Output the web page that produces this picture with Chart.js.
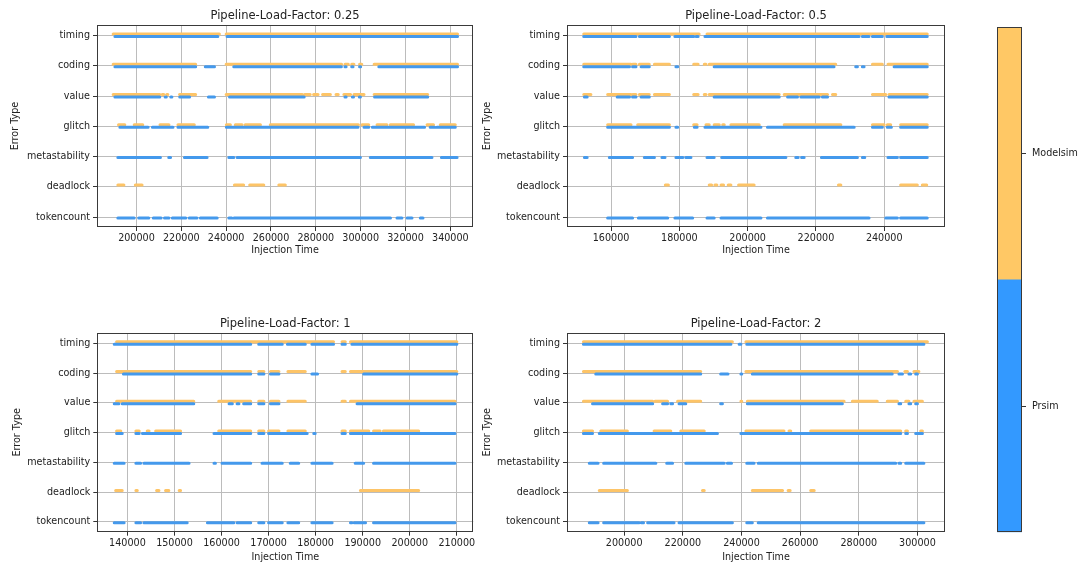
<!DOCTYPE html>
<html>
<head>
<meta charset="utf-8">
<script src="https://cdn.jsdelivr.net/npm/chart.js@4.4.0/dist/chart.umd.min.js"></script>
<style>
  html, body { margin: 0; padding: 0; background: #fff; }
  #page { position: relative; width: 1079px; height: 564px; overflow: hidden; }
  canvas { position: absolute; }
</style>
</head>
<body>
<div id="page">
  <canvas id="c025" width="480" height="262" style="left:0px;top:0px"></canvas>
  <canvas id="c05" width="480" height="262" style="left:472px;top:0px"></canvas>
  <canvas id="c1" width="480" height="256" style="left:2px;top:308px"></canvas>
  <canvas id="c2" width="480" height="256" style="left:472px;top:308px"></canvas>
  <canvas id="cbar" width="89" height="564" style="left:990px;top:0px"></canvas>
</div>
<script>
const errorTypes = ['timing', 'coding', 'value', 'glitch', 'metastability', 'deadlock', 'tokencount'];
const seriesNames = ['Modelsim', 'Prsim'];
const loadFactors = ['0.25', '0.5', '1', '2'];

const xTicks025 = [200000, 220000, 240000, 260000, 280000, 300000, 320000, 340000];
const xTicks05 = [160000, 180000, 200000, 220000, 240000];
const xTicks1 = [140000, 150000, 160000, 170000, 180000, 190000, 200000, 210000];
const xTicks2 = [200000, 220000, 240000, 260000, 280000, 300000];

// injection time intervals [start, end], one list per error type (errorTypes order)
const modelsim025 = [
  [[189600, 237000], [240000, 343200]],
  [[189600, 226400], [240000, 291500], [293000, 294500], [296000, 297000], [299500, 300500], [306000, 343200]],
  [[189600, 210400], [211500, 212200], [213500, 214000], [219200, 226400], [240000, 274000], [275000, 277500], [279000, 281000], [283000, 286500], [289000, 290000], [292500, 295500], [297000, 301500], [306000, 329900]],
  [[192000, 194800], [199000, 202800], [210500, 214500], [218500, 225800], [240100, 241900], [244100, 247100], [248500, 255300], [259700, 299000], [300600, 303600], [307300, 311700], [313200, 323600], [329600, 332500], [335500, 342200]],
  [],
  [[191700, 194400], [199500, 202500], [243700, 247800], [250500, 256800], [263500, 266400]],
  []
];
const prsim025 = [
  [[190400, 236300], [240400, 343200]],
  [[190400, 226400], [230700, 234800], [243400, 291400], [293000, 293500], [296000, 296600], [299500, 300000], [308100, 343200]],
  [[190400, 210400], [212800, 213300], [215300, 215800], [219300, 223700], [232100, 234800], [241500, 274800], [293000, 293500], [296300, 296800], [299400, 299900], [306200, 329900]],
  [[192600, 205200], [207100, 216300], [218500, 231800], [240100, 298800], [301500, 303600], [305200, 328500], [331000, 333000], [334000, 342200]],
  [[191700, 210700], [214400, 215200], [221400, 231500], [241200, 243400], [244900, 299900], [304300, 331800], [336000, 343000]],
  [],
  [[191700, 199000], [201000, 205500], [207500, 211000], [212500, 214500], [216000, 222000], [223500, 227000], [228500, 236000], [241200, 242500], [243500, 313300], [316200, 318400], [320700, 322900], [326600, 327800]]
];

const modelsim05 = [
  [[152000, 185800], [188100, 252600]],
  [[152000, 165850], [166300, 167300], [168300, 171200], [172700, 177100], [184200, 185500], [187300, 187800], [188750, 225800], [236550, 239450], [241100, 252600]],
  [[152000, 154100], [159000, 165850], [166300, 167300], [168300, 171200], [172700, 177100], [184200, 185500], [187300, 187800], [188750, 209250], [210700, 223400], [224850, 225800], [236550, 240450], [241400, 252600]],
  [[159000, 165850], [167800, 177100], [184200, 185200], [187800, 188750], [190200, 191700], [192700, 193150], [195100, 203400], [210700, 227300], [236550, 239950], [240900, 241900], [244800, 252600]],
  [],
  [[175900, 176800], [188750, 189450], [190400, 191000], [192200, 192950], [194300, 195100], [197350, 201900], [226600, 227300], [244800, 249700], [251150, 252450]],
  []
];
const prsim05 = [
  [[152000, 167300], [168300, 177100], [178700, 184200], [184900, 185500], [187500, 232650], [233600, 235550], [236550, 239450], [240750, 252600]],
  [[152000, 165400], [166300, 167300], [168800, 171200], [179000, 179500], [190200, 225300], [231650, 232150], [233600, 234100], [242900, 252600]],
  [[152200, 153000], [161800, 165400], [166300, 167300], [168800, 171200], [190200, 209250], [211700, 214600], [215600, 220950], [221900, 223400], [241400, 252600]],
  [[159000, 177100], [179000, 179500], [184400, 185200], [187500, 203900], [205800, 231200], [236550, 239450], [240900, 242100], [244800, 252600]],
  [[152200, 153000], [159500, 166300], [169750, 172700], [174900, 175800], [179000, 181000], [181900, 183400], [188100, 190200], [192400, 211200], [214100, 214800], [215800, 216550], [221600, 232150], [233600, 234300], [241100, 243850], [244800, 252600]],
  [],
  [[159000, 166300], [168000, 176600], [178700, 183900], [188100, 190200], [192200, 203900], [205800, 235550], [240450, 243850], [244800, 252600]]
];

const modelsim1 = [
  [[137700, 183800], [185600, 186300], [187400, 210000]],
  [[137700, 166200], [167900, 169000], [170400, 172200], [174100, 177800], [185600, 186300], [187400, 210000]],
  [[137700, 154100], [159400, 166200], [167900, 169000], [170400, 172200], [174100, 177800], [185600, 186300], [187400, 209600]],
  [[137700, 138600], [141800, 142500], [144200, 144600], [146000, 151300], [159400, 166200], [167900, 169000], [170000, 172200], [174100, 177800], [185600, 186300], [187400, 191300], [192300, 193700], [194400, 201900]],
  [],
  [[137500, 138900], [141800, 142100], [146200, 146700], [148100, 148800], [151000, 151300], [189500, 201900]],
  []
];
const prsim1 = [
  [[137200, 166200], [167900, 172900], [174000, 177800], [179200, 183800], [185600, 186300], [187700, 210000]],
  [[139150, 166200], [167900, 169000], [170400, 172200], [179200, 180400], [190200, 210000]],
  [[137200, 138200], [138900, 154100], [161600, 162300], [163300, 163700], [164700, 166200], [167900, 169000], [170400, 172200], [188800, 209600]],
  [[137700, 138900], [141800, 142500], [143200, 151300], [158400, 166200], [167900, 169000], [170000, 178200], [179600, 179900], [185600, 186300], [187400, 209600]],
  [[137200, 139300], [141800, 142800], [143500, 153100], [158400, 158700], [160100, 166200], [168600, 172900], [174600, 176400], [179200, 183500], [188400, 190200], [192300, 209600]],
  [],
  [[137200, 139300], [141800, 142800], [143500, 152700], [157000, 162600], [163300, 166200], [167900, 169000], [170000, 172900], [174100, 176400], [179200, 183500], [187400, 187700], [188200, 190600], [192300, 209600]]
];

const modelsim2 = [
  [[186100, 236900], [241500, 303400]],
  [[186100, 226100], [241500, 293200], [295700, 296600], [298800, 300500]],
  [[186100, 209700], [210500, 214800], [218200, 226100], [239800, 240100], [242000, 275000], [277800, 286300], [289700, 293200], [296000, 297100], [298800, 301700]],
  [[186100, 189200], [192000, 201100], [210200, 215900], [219300, 227300], [241500, 254500], [256200, 256800], [263600, 294300], [296000, 296600], [301100, 301700]],
  [],
  [[191500, 201100], [226700, 227300], [243700, 254000], [255900, 256600], [263600, 264800]],
  []
];
const prsim2 = [
  [[186100, 236400], [239200, 239800], [241800, 302200]],
  [[190300, 226100], [232900, 235400], [239800, 240100], [243700, 291400], [293700, 294900], [297100, 297700], [299400, 300000]],
  [[189200, 209700], [213100, 214800], [215900, 216500], [218700, 221000], [232900, 233500], [242000, 274400], [293700, 294300], [297100, 297700], [299400, 300000]],
  [[186100, 189200], [191500, 231800], [239800, 294300], [296000, 296600], [299400, 301700]],
  [[188100, 191100], [193000, 210800], [214500, 216500], [221000, 234100], [235200, 236600], [241800, 244300], [245700, 292600], [293700, 294300], [296000, 302200]],
  [],
  [[188100, 191100], [193000, 205100], [205900, 206600], [208000, 217000], [218700, 236900], [241800, 243700], [245700, 302200]]
];

const colorbarShares = [1, 1]; // Modelsim, Prsim

const ORANGE = '#FDC467';
const BLUE = '#4499EC';
const FONT = 'DejaVu Sans';

Chart.defaults.font.family = FONT;
Chart.defaults.font.size = 9.6;
Chart.defaults.color = '#222';

// outline of the plot area (matplotlib spines)
const frame = {
  id: 'frame',
  afterDraw(chart) {
    const a = chart.chartArea;
    const ctx = chart.ctx;
    ctx.save();
    ctx.strokeStyle = '#3a3a3a';
    ctx.lineWidth = 1;
    ctx.strokeRect(Math.round(a.left) + 0.5, Math.round(a.top) + 0.5,
      Math.round(a.right - a.left) - 1, Math.round(a.bottom - a.top) - 1);
    ctx.restore();
  }
};

function toPoints(rows, shift) {
  const pts = [];
  rows.forEach((row, i) => {
    const y = errorTypes.length - 1 - i + shift;
    row.forEach(([a, b]) => {
      pts.push({x: a, y: y}, {x: b, y: y}, {x: b, y: null});
    });
  });
  return pts;
}

function makePanel(id, lf, modelsim, prsim, xTicks, xMin, xMax, lay) {
  new Chart(document.getElementById(id), {
    type: 'line',
    data: {
      datasets: [
        {label: seriesNames[0], data: toPoints(modelsim, 0.055), borderColor: ORANGE, order: 1},
        {label: seriesNames[1], data: toPoints(prsim, -0.03), borderColor: BLUE, order: 0}
      ]
    },
    options: {
      responsive: false,
      animation: false,
      events: [],
      elements: {
        line: {borderWidth: 3, borderCapStyle: 'round', tension: 0},
        point: {radius: 0}
      },
      layout: {padding: {left: 0, right: lay.padRight, top: 0, bottom: 0}},
      plugins: {
        legend: {display: false},
        tooltip: {enabled: false},
        title: {
          display: true,
          text: 'Pipeline-Load-Factor: ' + lf,
          fullSize: false,
          color: '#222',
          font: {size: 11.5, weight: 'normal'},
          padding: {top: 8.8, bottom: 2.4}
        }
      },
      scales: {
        x: {
          type: 'linear',
          min: xMin,
          max: xMax,
          afterBuildTicks: s => { s.ticks = xTicks.map(v => ({value: v})); },
          afterFit: s => { s.height = lay.xHeight; },
          ticks: {callback: v => String(v), padding: 2, maxRotation: 0, autoSkip: false},
          grid: {color: '#bcbcbc', tickColor: '#333', tickLength: 4},
          border: {display: false},
          title: {display: true, text: 'Injection Time', padding: {top: 0, bottom: lay.xTitlePB}}
        },
        y: {
          type: 'linear',
          min: -0.33,
          max: 6.35,
          afterBuildTicks: s => { s.ticks = errorTypes.map((t, i) => ({value: i})); },
          afterFit: s => { s.width = lay.yWidth; },
          ticks: {callback: v => errorTypes[errorTypes.length - 1 - v], padding: 3, autoSkip: false},
          grid: {color: '#bcbcbc', tickColor: '#333', tickLength: 4},
          border: {display: false},
          title: {display: true, text: 'Error Type', padding: {top: 9.25, bottom: 0}}
        }
      }
    },
    plugins: [frame]
  });
}

makePanel('c025', loadFactors[0], modelsim025, prsim025, xTicks025, 182400, 350100,
  {padRight: 7, yWidth: 97, xHeight: 35, xTitlePB: 5.5});
makePanel('c05', loadFactors[1], modelsim05, prsim05, xTicks05, 147100, 257800,
  {padRight: 7, yWidth: 95, xHeight: 35, xTitlePB: 5.5});
makePanel('c1', loadFactors[2], modelsim1, prsim1, xTicks1, 133600, 213500,
  {padRight: 8.7, yWidth: 95.3, xHeight: 32.3, xTitlePB: 0.5});
makePanel('c2', loadFactors[3], modelsim2, prsim2, xTicks2, 180500, 309400,
  {padRight: 7, yWidth: 95, xHeight: 32.3, xTitlePB: 0.5});

// colour bar legend on the right
new Chart(document.getElementById('cbar'), {
  type: 'bar',
  data: {
    labels: [''],
    datasets: [
      {label: seriesNames[1], data: [colorbarShares[1]], backgroundColor: '#3399FF'},
      {label: seriesNames[0], data: [colorbarShares[0]], backgroundColor: '#FFC865'}
    ]
  },
  options: {
    responsive: false,
    animation: false,
    events: [],
    layout: {padding: {left: 7, top: 27.3, bottom: 31.7, right: 0}},
    datasets: {bar: {barPercentage: 1, categoryPercentage: 1}},
    plugins: {legend: {display: false}, tooltip: {enabled: false}},
    scales: {
      x: {display: false, stacked: true},
      y: {
        position: 'right',
        stacked: true,
        min: 0,
        max: 2,
        afterBuildTicks: s => { s.ticks = [{value: 0.5}, {value: 1.5}]; },
        afterFit: s => { s.width = 57; },
        ticks: {callback: v => (v > 1 ? seriesNames[0] : seriesNames[1]), padding: 6},
        grid: {drawOnChartArea: false, tickColor: '#333', tickLength: 4},
        border: {display: false}
      }
    }
  },
  plugins: [frame]
});
</script>
</body>
</html>
